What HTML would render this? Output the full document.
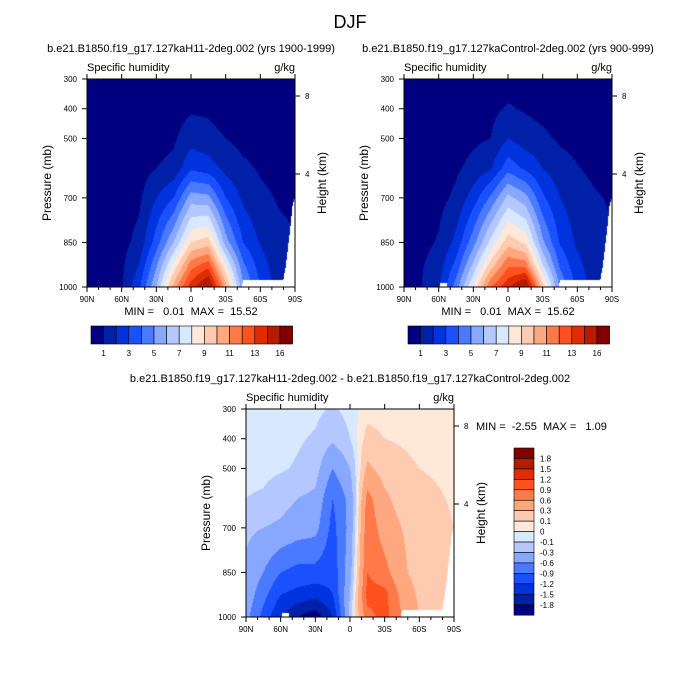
<!DOCTYPE html>
<html><head><meta charset="utf-8"><style>
html,body{margin:0;padding:0;background:#fff;width:700px;height:700px;overflow:hidden}
#wrap{position:relative;width:700px;height:700px}
canvas{position:absolute}
svg{position:absolute;left:0;top:0}
text{font-family:"Liberation Sans",sans-serif;fill:#000;white-space:pre}
</style></head><body>
<div id="wrap">
<canvas id="c1" width="208" height="208" style="left:87px;top:79px"></canvas>
<canvas id="c2" width="208" height="208" style="left:404px;top:79px"></canvas>
<canvas id="c3" width="208" height="208" style="left:246px;top:409px"></canvas>
<svg id="svg" width="700" height="700">
<text x="350" y="28" font-size="18" text-anchor="middle">DJF</text>
</svg>
</div>
<script>
// ---- data ----
const lats = [90,75,60,45,30,15,0,-15,-30,-45,-60,-75,-90];
const pres = [300,400,500,600,700,850,925,1000];
const qH11 = [
 [0.1,0.1,0.1,0.15,0.3,0.4,0.5,0.5,0.35,0.25,0.2,0.1,0.1],
 [0.15,0.15,0.2,0.3,0.5,0.6,0.85,0.85,0.6,0.45,0.35,0.25,0.2],
 [0.2,0.2,0.25,0.4,0.6,0.85,1.6,1.3,1.0,0.7,0.55,0.4,0.35],
 [0.3,0.3,0.4,0.6,1.0,1.3,2.8,2.5,1.7,1.2,0.9,0.7,0.5],
 [0.4,0.4,0.5,0.8,2.0,3.0,5.5,5.3,3.0,1.8,1.2,0.95,0.8],
 [0.5,0.5,0.7,1.3,3.5,6.0,9.0,9.5,5.5,3.0,1.9,1.2,1.1],
 [0.6,0.6,0.8,2.0,4.8,8.2,11.5,12.5,8.0,4.2,2.5,1.4,1.0],
 [0.6,0.7,0.9,2.8,6.0,10.5,13.5,15.5,10.5,5.2,3.0,1.5,1.0]];
const qCtl = [
 [0.1,0.1,0.1,0.2,0.3,0.45,0.6,0.5,0.35,0.25,0.2,0.1,0.1],
 [0.15,0.15,0.2,0.35,0.55,0.75,1.1,0.9,0.7,0.55,0.4,0.3,0.25],
 [0.25,0.25,0.35,0.55,0.8,1.0,2.0,1.5,1.2,0.85,0.7,0.5,0.4],
 [0.35,0.35,0.5,0.85,1.3,1.9,3.6,2.8,2.0,1.4,1.05,0.8,0.6],
 [0.45,0.5,0.7,1.2,2.5,4.2,6.3,5.4,3.2,2.0,1.4,1.1,0.9],
 [0.6,0.7,1.1,2.3,4.6,7.3,9.6,8.8,5.2,2.9,1.8,1.3,1.1],
 [0.7,0.9,1.5,3.3,6.2,9.4,11.8,11.5,7.0,3.8,2.3,1.4,1.1],
 [0.7,1.0,1.8,4.5,8.0,12.0,13.7,15.6,9.5,4.8,2.7,1.5,1.0]];
const qDiff = [
 [-0.05,-0.05,-0.05,-0.05,-0.06,-0.12,-0.05,0.05,0.05,0.05,0.05,0.05,0.05],
 [-0.05,-0.05,-0.05,-0.08,-0.12,-0.25,-0.1,0.15,0.1,0.08,0.05,0.05,0.05],
 [-0.06,-0.06,-0.08,-0.12,-0.2,-0.6,-0.3,0.35,0.2,0.15,0.1,0.08,0.05],
 [-0.1,-0.12,-0.2,-0.3,-0.35,-0.9,-0.5,0.7,0.35,0.2,0.15,0.12,0.08],
 [-0.25,-0.3,-0.35,-0.45,-0.5,-1.0,-0.5,0.8,0.45,0.3,0.2,0.15,0.1],
 [-0.35,-0.6,-0.9,-1.0,-1.0,-1.1,-0.4,0.9,0.7,0.35,0.2,0.15,0.15],
 [-0.4,-0.8,-1.2,-1.3,-1.4,-1.2,-0.3,1.0,1.0,0.5,0.25,0.15,0.15],
 [-0.5,-1.0,-1.5,-1.8,-2.0,-1.5,-0.2,0.8,1.0,0.6,0.3,0.2,0.2]];
// missing-data (below ground) boundary: latitude and pressure
const maskLatH = [90,-44,-45,-80,-82,-86,-88,-90];
const maskPH   = [1001,1001,975,975,930,800,720,700];
const maskLatC = [90,59,58.9,53,52.9,-44,-45,-80,-82,-86,-88,-90];
const maskPC   = [1001,1001,985,985,1001,1001,975,975,930,800,720,700];
const maskLatD = [90,59,58.9,53,52.9,-44,-45,-80,-82,-86,-88,-90];
const maskPD   = [1001,1001,985,985,1001,1001,975,975,930,800,720,700];
const levelsQ = [1,2,3,4,5,6,7,8,9,10,11,12,13,14,16];
const levelsD = [-1.8,-1.5,-1.2,-0.9,-0.6,-0.3,-0.1,0,0.1,0.3,0.6,0.9,1.2,1.5,1.8];
const barLabelsQ = ["1","3","5","7","9","11","13","16"];
const barLabelsD = ["1.8","1.5","1.2","0.9","0.6","0.3","0.1","0","-0.1","-0.3","-0.6","-0.9","-1.2","-1.5","-1.8"];
const colors = ['#000080','#0020a8','#0033dd','#1a50ff','#4a7aff','#88a8ff','#b4c8ff','#d8e8ff','#ffe8d8','#ffcbb0','#ffa880','#ff7a48','#ff5020','#e02c00','#b41c00','#800000'];
const presTicks = [300,400,500,700,850,1000];
const latTicks = [90,60,30,0,-30,-60,-90];
const latLabels = ["90N","60N","30N","0","30S","60S","90S"];

// ---- helpers ----
const NS='http://www.w3.org/2000/svg';
const svg=document.getElementById('svg');
function hex(c){return [parseInt(c.substr(1,2),16),parseInt(c.substr(3,2),16),parseInt(c.substr(5,2),16)];}
function interp(field,lat,p){
  let fi=(90-lat)/15; let i=Math.min(Math.floor(fi),11); let tx=fi-i;
  let j=0; while(j<pres.length-2 && p>pres[j+1]) j++;
  let ty=(p-pres[j])/(pres[j+1]-pres[j]);
  const a=field[j][i],b=field[j][i+1],c=field[j+1][i],d=field[j+1][i+1];
  return (a*(1-tx)+b*tx)*(1-ty)+(c*(1-tx)+d*tx)*ty;
}
function surf(ml,mp,lat){for(let i=0;i<ml.length-1;i++){if(lat<=ml[i]&&lat>=ml[i+1]){const t=(ml[i]-lat)/(ml[i]-ml[i+1]||1);return mp[i]*(1-t)+mp[i+1]*t;}}return 1001;}
function drawField(id,field,levels,ml,mp){
  const cv=document.getElementById(id),ctx=cv.getContext('2d');
  const img=ctx.createImageData(208,208);const rgb=colors.map(hex);
  for(let x=0;x<208;x++){const lat=90-(x+0.5)/208*180;const ps=surf(ml,mp,lat);
    for(let y=0;y<208;y++){const p=300+(y+0.5)/208*700;const k=(y*208+x)*4;
      let col=[255,255,255];
      if(p<=ps){const v=interp(field,lat,p);let n=0;while(n<levels.length&&v>=levels[n])n++;col=rgb[n];}
      img.data[k]=col[0];img.data[k+1]=col[1];img.data[k+2]=col[2];img.data[k+3]=255;}}
  ctx.putImageData(img,0,0);
}
function el(tag,attrs,txt){const e=document.createElementNS(NS,tag);for(const k in attrs)e.setAttribute(k,attrs[k]);if(txt!==undefined)e.textContent=txt;svg.appendChild(e);return e;}
function axes(x0,y0,name,title,mmText,mmX,mmY,mmAnchor){
  const W=208,H=208;
  const xs=lat=>x0+(90-lat)/180*W, ys=p=>y0+(p-300)/700*H;
  const fr=el('rect',{x:x0,y:y0,width:W,height:H,fill:'none',stroke:'#000','stroke-width':1});
  
  presTicks.forEach(p=>{const y=ys(p);
    const t=el('line',{x1:x0-5,y1:y,x2:x0,y2:y,stroke:'#000'});
    const l=el('text',{x:x0-10,y:y+3,'font-size':8,'text-anchor':'end'},String(p));});
  for(let lat=90;lat>=-90;lat-=10){const x=xs(lat);const major=lat%30===0;
    const t=el('line',{x1:x,y1:y0+H,x2:x,y2:y0+H+(major?5:3),stroke:'#000'});
    if(major){const t2=el('line',{x1:x,y1:y0,x2:x,y2:y0-5,stroke:'#000'});}}
  latTicks.forEach((lat,i)=>{const l=el('text',{x:xs(lat),y:y0+H+15,'font-size':8,'text-anchor':'middle'},latLabels[i]);});
  [[8,17],[4,95]].forEach(([h,dy])=>{const y=y0+dy;
    const t=el('line',{x1:x0+W,y1:y,x2:x0+W+5,y2:y,stroke:'#000'});
    const l=el('text',{x:x0+W+10,y:y+3,'font-size':8},String(h));});
  const yl=el('text',{x:0,y:0,'font-size':12,'text-anchor':'middle',transform:`translate(${x0-36},${y0+H/2}) rotate(-90)`},'Pressure (mb)');
  const hl=el('text',{x:0,y:0,'font-size':12,'text-anchor':'middle',transform:`translate(${x0+W+31},${y0+H/2}) rotate(-90)`},'Height (km)');
  const s=el('text',{x:x0,y:y0-8,'font-size':11},'Specific humidity');
  const u=el('text',{x:x0+W,y:y0-8,'font-size':11,'text-anchor':'end'},'g/kg');
  const tt=el('text',{x:x0+W/2,y:y0-27,'font-size':11,'text-anchor':'middle'},title);
  const mm=el('text',{x:mmX,y:mmY,'font-size':11,'text-anchor':mmAnchor},mmText);
}
function hbar(x0,y0,name){
  const bw=12.6,bh=18;
  colors.forEach((c,i)=>{const r=el('rect',{x:x0+i*bw,y:y0,width:bw,height:bh,fill:c,stroke:'#000','stroke-width':0.6});});
  const idx=[1,3,5,7,9,11,13,15];
  barLabelsQ.forEach((t,i)=>{const l=el('text',{x:x0+idx[i]*bw,y:y0+bh+12,'font-size':8,'text-anchor':'middle'},t);});
}
function vbar(x0,y0,name){
  const bw=20,bh=10.45;
  colors.slice().reverse().forEach((c,i)=>{const r=el('rect',{x:x0,y:y0+i*bh,width:bw,height:bh,fill:c,stroke:'#000','stroke-width':0.6});});
  barLabelsD.forEach((t,i)=>{const l=el('text',{x:x0+bw+6,y:y0+(i+1)*bh+3,'font-size':8},t);});
}
drawField('c1',qH11,levelsQ,maskLatH,maskPH);
drawField('c2',qCtl,levelsQ,maskLatC,maskPC);
drawField('c3',qDiff,levelsD,maskLatD,maskPD);
axes(87,79,'h11-panel','b.e21.B1850.f19_g17.127kaH11-2deg.002 (yrs 1900-1999)','MIN =   0.01  MAX =  15.52',191,315,'middle');
axes(404,79,'control-panel','b.e21.B1850.f19_g17.127kaControl-2deg.002 (yrs 900-999)','MIN =   0.01  MAX =  15.62',508,315,'middle');
axes(246,409,'difference-panel','b.e21.B1850.f19_g17.127kaH11-2deg.002 - b.e21.B1850.f19_g17.127kaControl-2deg.002','MIN =  -2.55  MAX =   1.09',476,430,'start');
hbar(91,326,'h11-colorbar');
hbar(408,326,'control-colorbar');
vbar(514,448,'difference-colorbar');
</script>
</body></html>
